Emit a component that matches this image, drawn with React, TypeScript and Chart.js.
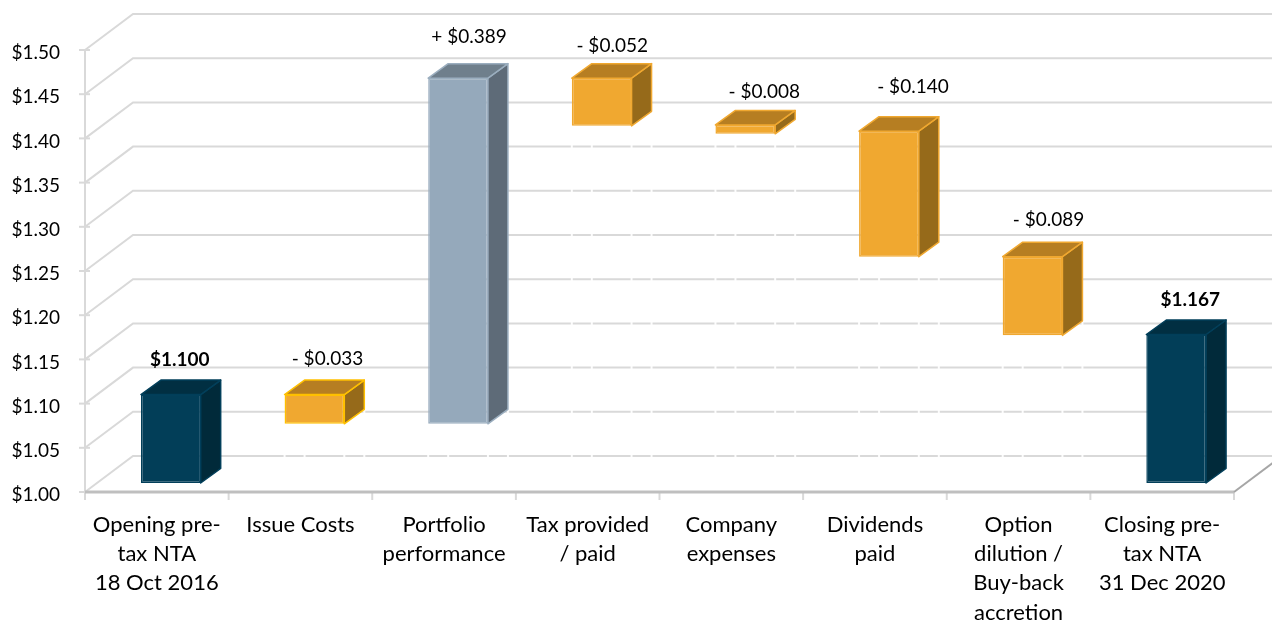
import React, { useEffect, useRef } from "react";
import { Chart, registerables } from "chart.js";

Chart.register(...registerables);

const categories: string[][] = [
  ["Opening pre-", "tax NTA", "18 Oct 2016"],
  ["Issue Costs"],
  ["Portfolio", "performance"],
  ["Tax provided", "/ paid"],
  ["Company", "expenses"],
  ["Dividends", "paid"],
  ["Option", "dilution /", "Buy-back", "accretion"],
  ["Closing pre-", "tax NTA", "31 Dec 2020"],
];
const lows = [1.0, 1.067, 1.067, 1.404, 1.395, 1.256, 1.167, 1.0];
const highs = [1.1, 1.1, 1.458, 1.458, 1.405, 1.398, 1.256, 1.168];
const valueLabels = ["$1.100", "- $0.033", "+ $0.389", "- $0.052", "- $0.008", "- $0.140", "- $0.089", "$1.167"];
const boldLabels = [true, false, false, false, false, false, false, true];
const kinds = ["total", "cost", "gain", "cost", "cost", "cost", "cost", "total"];

const palette: Record<string, { front: string; top: string; side: string; edge: string }> = {
  total: { front: "#023E58", top: "#012F42", side: "#012A3A", edge: "#023F5A" },
  cost: { front: "#F0A830", top: "#B67E22", side: "#966A1A", edge: "#F0A830" },
  gain: { front: "#95A9BB", top: "#6F7F8C", side: "#5E6B78", edge: "#9BAEBF" },
};
const issueEdge = "#FFC000";

// projection of the 3-D look
const WALL_DX = 48;
const WALL_DY = 36;
const BAR_DX = 14;
const BAR_DY = 9;
const DEPTH_DX = 20;
const DEPTH_DY = 14.5;
const FONT = "Lato";
const labelNudgeX = [9, 13, 11, 10.5, 19, 24, 16, 14];
const labelNudgeY = [-35, -36, -41, -32, -33, -44, -37, -35];

const plugin3d = {
  id: "plugin3d",
  beforeDraw(chart: any) {
    const { ctx, chartArea, scales } = chart;
    const y = scales.y;
    const x = scales.x;
    const W = chart.width;
    ctx.save();
    ctx.lineCap = "butt";
    ctx.lineWidth = 2;
    ctx.strokeStyle = "#D9D9D9";
    y.ticks.forEach((t: any) => {
      const py = y.getPixelForValue(t.value);
      ctx.beginPath();
      ctx.moveTo(chartArea.left, py);
      ctx.lineTo(chartArea.left + WALL_DX, py - WALL_DY);
      ctx.lineTo(W, py - WALL_DY);
      ctx.stroke();
      ctx.beginPath();
      ctx.moveTo(chartArea.left - 6, py);
      ctx.lineTo(chartArea.left + 5, py);
      ctx.stroke();
    });
    ctx.beginPath();
    ctx.moveTo(chartArea.left, chartArea.top);
    ctx.lineTo(chartArea.left, chartArea.bottom + 8);
    ctx.stroke();
    const step = (chartArea.right - chartArea.left) / categories.length;
    for (let i = 1; i <= categories.length; i++) {
      const px = x.getPixelForValue(i - 1) + step / 2;
      ctx.beginPath();
      ctx.moveTo(px, chartArea.bottom);
      ctx.lineTo(px, chartArea.bottom + 8);
      ctx.stroke();
    }
    ctx.strokeStyle = "#BFBFBF";
    ctx.lineWidth = 3;
    ctx.beginPath();
    ctx.moveTo(chartArea.left, chartArea.bottom);
    ctx.lineTo(chartArea.right, chartArea.bottom);
    ctx.stroke();
    ctx.strokeStyle = "#A6A6A6";
    ctx.lineWidth = 2;
    ctx.beginPath();
    ctx.moveTo(chartArea.right, chartArea.bottom);
    ctx.lineTo(chartArea.right + WALL_DX, chartArea.bottom - WALL_DY);
    ctx.stroke();
    ctx.restore();
  },
  beforeDatasetDraw(chart: any, args: any) {
    const { ctx, scales } = chart;
    const y0 = scales.y.getPixelForValue(1);
    const els = args.meta.data;
    ctx.save();
    ctx.translate(BAR_DX, -BAR_DY);
    // faint gaps left in the gridlines by the invisible spacer below floating bars
    ctx.strokeStyle = "rgba(255,255,255,0.92)";
    ctx.lineWidth = 2;
    els.forEach((el: any, i: number) => {
      if (lows[i] <= 1) return;
      const l = el.x - el.width / 2;
      const r = el.x + el.width / 2;
      const yLow = scales.y.getPixelForValue(lows[i]);
      [
        [l, 0],
        [r, 0],
        [l, 1],
        [r, 1],
      ].forEach(([px, back]) => {
        ctx.beginPath();
        ctx.moveTo(px + back * DEPTH_DX, yLow - back * DEPTH_DY);
        ctx.lineTo(px + back * DEPTH_DX, y0 - back * DEPTH_DY);
        ctx.stroke();
      });
    });
    // side and top faces
    els.forEach((el: any, i: number) => {
      const c = palette[kinds[i]];
      const l = el.x - el.width / 2;
      const r = el.x + el.width / 2;
      const t = scales.y.getPixelForValue(highs[i]);
      const b = scales.y.getPixelForValue(lows[i]);
      ctx.lineWidth = 1.5;
      ctx.lineJoin = "round";
      ctx.strokeStyle = i === 1 ? issueEdge : c.edge;
      ctx.fillStyle = c.side;
      ctx.beginPath();
      ctx.moveTo(r, t);
      ctx.lineTo(r + DEPTH_DX, t - DEPTH_DY);
      ctx.lineTo(r + DEPTH_DX, b - DEPTH_DY);
      ctx.lineTo(r, b);
      ctx.closePath();
      ctx.fill();
      ctx.stroke();
      ctx.fillStyle = c.top;
      ctx.beginPath();
      ctx.moveTo(l, t);
      ctx.lineTo(l + DEPTH_DX, t - DEPTH_DY);
      ctx.lineTo(r + DEPTH_DX, t - DEPTH_DY);
      ctx.lineTo(r, t);
      ctx.closePath();
      ctx.fill();
      ctx.stroke();
    });
    // the library's own bar element paints the front face inside this translation
  },
  afterDatasetDraw(chart: any, args: any) {
    const { ctx, scales } = chart;
    ctx.restore();
    ctx.save();
    ctx.textAlign = "center";
    ctx.textBaseline = "middle";
    ctx.fillStyle = "#000000";
    args.meta.data.forEach((el: any, i: number) => {
      const t = scales.y.getPixelForValue(highs[i]) - BAR_DY;
      ctx.font = `${boldLabels[i] ? "700" : "400"} 19px ${FONT}`;
      ctx.fillText(valueLabels[i], el.x + BAR_DX + labelNudgeX[i], t + labelNudgeY[i]);
    });
    ctx.restore();
  },
};

export default function App() {
  const ref = useRef<HTMLCanvasElement>(null);
  useEffect(() => {
    document.body.style.margin = "0";
    const chart = new Chart(ref.current!, {
      type: "bar",
      data: {
        labels: categories,
        datasets: [
          {
            label: "NTA bridge",
            data: lows.map((l, i) => [l, highs[i]]),
            backgroundColor: kinds.map((k) => palette[k].front),
            borderColor: kinds.map((k, i) => (i === 1 ? issueEdge : palette[k].edge)),
            borderWidth: 1.5,
            borderSkipped: false,
            categoryPercentage: 1,
            barPercentage: 0.416,
            clip: false,
          } as any,
        ],
      },
      options: {
        responsive: false,
        animation: false,
        layout: { padding: { top: 50, right: 38, left: 0, bottom: 0 } },
        plugins: { legend: { display: false }, tooltip: { enabled: false }, title: { display: false } },
        scales: {
          x: {
            grid: { display: false },
            border: { display: false },
            afterFit: (s: any) => {
              s.height = 130;
            },
            ticks: {
              autoSkip: false,
              maxRotation: 0,
              minRotation: 0,
              padding: 10,
              color: "#000000",
              font: { family: FONT, size: 22, lineHeight: 1.33 },
            },
          },
          y: {
            min: 1,
            max: 1.5,
            grid: { display: false },
            border: { display: false },
            afterFit: (s: any) => {
              s.width = 85;
            },
            ticks: {
              stepSize: 0.05,
              padding: 17,
              labelOffset: 3,
              color: "#000000",
              font: { family: FONT, size: 19 },
              callback: (v: any) => `$${Number(v).toFixed(2)}`,
            },
          },
        },
      },
      plugins: [plugin3d],
    } as any);
    return () => chart.destroy();
  }, []);
  return <canvas ref={ref} width={1272} height={622} style={{ display: "block" }} />;
}
